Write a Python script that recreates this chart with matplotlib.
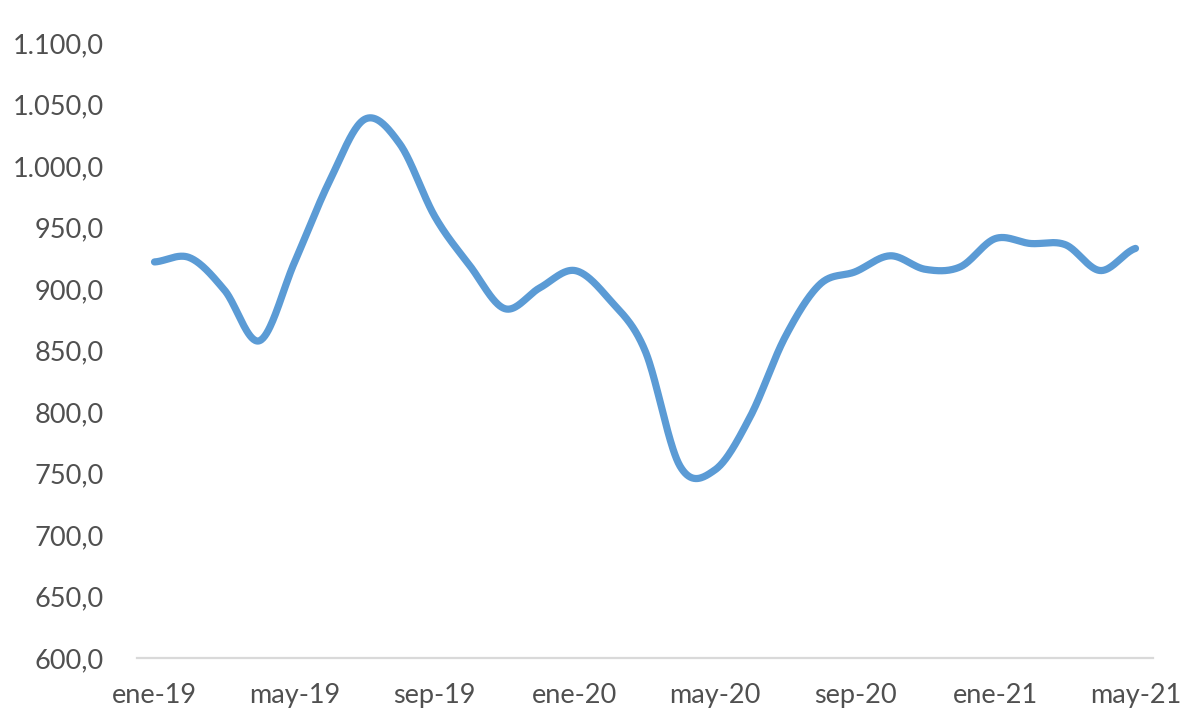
import numpy as np
import matplotlib
matplotlib.use("Agg")
import matplotlib.pyplot as plt
from matplotlib.ticker import FuncFormatter, FixedLocator

months = ["ene-19", "feb-19", "mar-19", "abr-19", "may-19", "jun-19", "jul-19", "ago-19",
          "sep-19", "oct-19", "nov-19", "dic-19", "ene-20", "feb-20", "mar-20", "abr-20",
          "may-20", "jun-20", "jul-20", "ago-20", "sep-20", "oct-20", "nov-20", "dic-20",
          "ene-21", "feb-21", "mar-21", "abr-21", "may-21"]
values = [922, 925.5, 899, 858, 922, 988, 1038, 1018, 959, 919, 884, 901, 915, 891, 850,
          756, 753, 796, 861, 904, 914, 927, 916, 918, 941, 937, 936, 915, 933]
y_ticks = [600, 650, 700, 750, 800, 850, 900, 950, 1000, 1050, 1100]

LINE_COLOR = "#5B9BD5"
TEXT_COLOR = "#505050"
FONT = ["Lato", "DejaVu Sans"]


def smooth(y, n=40):
    # Catmull-Rom (Excel-like smoothed line) through the data points
    y = np.asarray(y, dtype=float)
    x = np.arange(len(y), dtype=float)
    m = np.zeros_like(y)
    m[1:-1] = (y[2:] - y[:-2]) / 2.0
    m[0] = (y[1] - y[0]) / 2.0
    m[-1] = (y[-1] - y[-2]) / 2.0
    xs, ys = [], []
    for i in range(len(y) - 1):
        t = np.linspace(0, 1, n, endpoint=(i == len(y) - 2))
        h00 = 2 * t**3 - 3 * t**2 + 1
        h10 = t**3 - 2 * t**2 + t
        h01 = -2 * t**3 + 3 * t**2
        h11 = t**3 - t**2
        ys.append(h00 * y[i] + h10 * m[i] + h01 * y[i + 1] + h11 * m[i + 1])
        xs.append(x[i] + t)
    return np.concatenate(xs), np.concatenate(ys)


def es_fmt(v, pos):
    s = f"{v:,.1f}"
    return s.replace(",", "X").replace(".", ",").replace("X", ".")


fig = plt.figure(figsize=(12, 7.19), dpi=100)
ax = fig.add_axes([137 / 1200, 1 - 658 / 719, (1153 - 137) / 1200, (658 - 43) / 719])

xs, ys = smooth(values)
ax.plot(xs, ys, color=LINE_COLOR, linewidth=5.2, solid_capstyle="round", solid_joinstyle="round")

ax.set_xlim(-0.5, len(months) - 0.5)
ax.set_ylim(600, 1100)
ax.yaxis.set_major_locator(FixedLocator(y_ticks))
ax.yaxis.set_major_formatter(FuncFormatter(es_fmt))
tick_idx = list(range(0, len(months), 4))
ax.set_xticks(tick_idx)
ax.set_xticklabels([months[i] for i in tick_idx])

for side in ["top", "right", "left"]:
    ax.spines[side].set_visible(False)
ax.spines["bottom"].set_color("#D9D9D9")
ax.spines["bottom"].set_linewidth(1.6)
ax.tick_params(axis="both", length=0, colors=TEXT_COLOR, labelsize=19.5)
ax.tick_params(axis="y", pad=24)
ax.tick_params(axis="x", pad=18)
for lab in ax.get_xticklabels() + ax.get_yticklabels():
    lab.set_family(FONT)
    lab.set_color(TEXT_COLOR)

fig.savefig("out.png", dpi=100, facecolor="white")
